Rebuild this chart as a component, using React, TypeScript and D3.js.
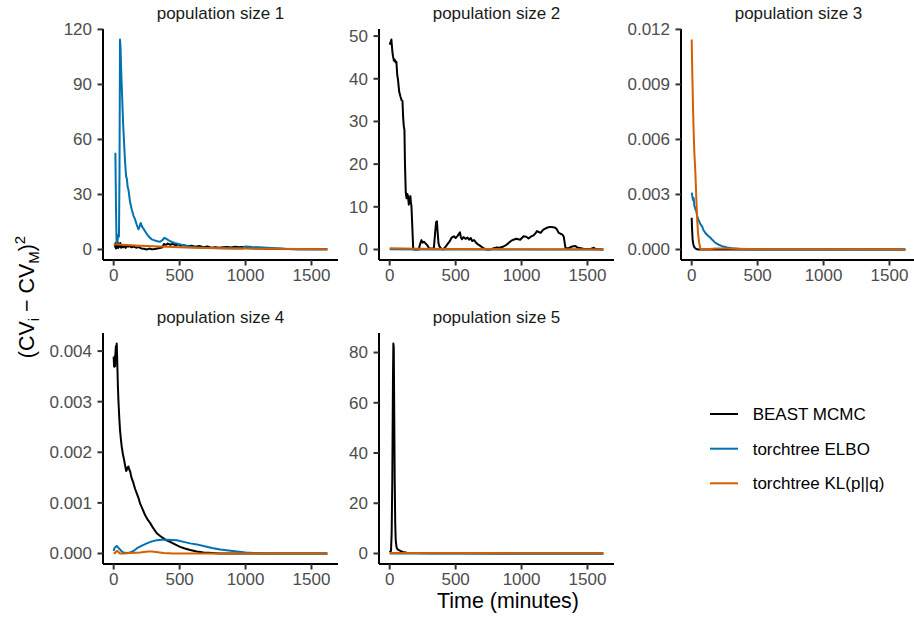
import React from 'react';
import * as d3 from 'd3';

type Pt = [number, number];

const seriesNames = ['BEAST MCMC', 'torchtree ELBO', 'torchtree KL(p||q)'];
const seriesColors = ['#000000', '#0072B2', '#D55E00'];
const panelTitles = ['population size 1', 'population size 2', 'population size 3', 'population size 4', 'population size 5'];
const xTicks = [0, 500, 1000, 1500];
const yTicksP1 = [0, 30, 60, 90, 120];
const yTicksP2 = [0, 10, 20, 30, 40, 50];
const yTicksP3 = [0, 0.003, 0.006, 0.009, 0.012];
const yTicksP4 = [0, 0.001, 0.002, 0.003, 0.004];
const yTicksP5 = [0, 20, 40, 60, 80];
const yDecimals = [0, 0, 3, 3, 0];

// population size 1
const p1Beast: Pt[] = [
  [10, 1], [14, 3.5], [18, 0.5], [22, 3], [26, 1], [30, 4], [34, 0.8], [38, 2.5], [44, 1.5], [50, 3.5],
  [56, 1], [62, 2.5], [70, 1.2], [80, 1.8], [90, 0.9], [100, 2.2], [110, 1.5], [120, 1.9], [135, 1.2],
  [150, 1.6], [170, 1.0], [190, 1.3], [210, 0.6], [230, 0.4], [250, 0], [270, 0.5], [290, 0.1], [310, 0.3],
  [330, 0.6], [350, 0.8], [370, 1.2], [380, 3], [395, 2.5], [410, 3.2], [430, 2.6], [450, 3.1], [470, 2.3],
  [490, 2.8], [510, 2.0], [530, 2.4], [560, 1.8], [590, 2.1], [620, 1.5], [650, 1.9], [680, 1.2], [710, 1.6],
  [740, 1.0], [770, 1.3], [800, 0.9], [830, 1.2], [860, 1.4], [890, 1.1], [920, 1.5], [950, 1.2], [980, 1.3],
  [1000, 0.8], [1050, 0.7], [1100, 0.5], [1200, 0.4], [1300, 0.3], [1400, 0.2], [1500, 0.15], [1620, 0.1],
];
const p1Elbo: Pt[] = [
  [13, 52.7], [18, 20], [22, 3.5], [28, 4], [34, 8], [40, 7], [44, 40], [48, 114.5], [52, 110], [58, 95],
  [64, 83.6], [72, 68], [79, 58], [86, 48], [94, 40], [100, 38.5], [106, 34], [112, 32.7], [124, 26],
  [137, 21.8], [150, 18.5], [162, 16.4], [175, 13.5], [188, 11], [196, 12.5], [205, 14.5], [215, 12.5],
  [225, 11.5], [238, 10], [255, 8], [270, 6.8], [289, 5.5], [310, 5], [330, 4.5], [352, 4.2], [370, 5.2],
  [385, 6.4], [400, 5.8], [428, 4.5], [460, 3.6], [505, 2.7], [540, 2.2], [580, 1.5], [620, 1.2], [700, 0.9],
  [800, 0.7], [900, 0.5], [980, 0.6], [1000, 1.7], [1050, 1.4], [1100, 1.2], [1200, 0.8], [1300, 0.4],
  [1400, 0.2], [1500, 0.15], [1620, 0.1],
];
const p1Kl: Pt[] = [
  [0, 2.9], [100, 2.5], [200, 2.1], [400, 1.5], [600, 1.0], [800, 0.7], [1000, 0.5], [1200, 0.35],
  [1400, 0.25], [1620, 0.15],
];

// population size 2
const p2Beast: Pt[] = [
  [0, 48], [7, 48.6], [13, 49.2], [20, 46.5], [25, 45.3], [32, 44.2], [38, 44.5], [45, 43.8], [51, 44],
  [57, 41], [63, 39.8], [72, 37], [81, 35.9], [90, 35], [97, 34.8], [102, 31], [107, 28.9], [112, 28],
  [116, 20], [122, 13.3], [128, 12], [134, 13], [139, 12.5], [145, 10.5], [150, 11.8], [157, 12.5],
  [161, 11], [165, 10.2], [172, 5], [178, 0.4], [185, 0], [220, 0], [230, 1.2], [241, 2.2], [250, 1.6],
  [260, 1.8], [270, 1.5], [285, 1], [295, 0.5], [300, 0.2], [335, 0.3], [345, 4], [352, 6.4], [358, 6.6],
  [364, 4], [370, 1.5], [376, 0.8], [390, 0.2], [406, 0], [420, 0.5], [440, 1.3], [457, 2], [470, 2.8],
  [487, 3.1], [500, 2.7], [515, 3.2], [533, 4], [540, 2.8], [548, 2.4], [560, 2.9], [575, 2.5], [590, 2.8],
  [602, 2.3], [615, 2.7], [625, 2.0], [640, 2.2], [655, 1.6], [670, 1.2], [690, 0.8], [711, 0.3], [730, 0],
  [762, 0], [790, 0.3], [812, 0.5], [835, 0.4], [863, 0.7], [885, 1.1], [901, 1.5], [920, 2], [939, 2.3],
  [960, 2.5], [990, 2.3], [1015, 3.1], [1035, 3.0], [1053, 2.6], [1070, 3.0], [1091, 3.3], [1105, 3.8],
  [1117, 4.3], [1130, 4.1], [1145, 3.9], [1160, 4.5], [1168, 4.7], [1180, 4.9], [1193, 5.1], [1205, 5.2],
  [1218, 5.3], [1240, 5.2], [1256, 5.1], [1268, 4.7], [1282, 3.9], [1295, 3.7], [1310, 3.5], [1320, 3.0],
  [1333, 0.3], [1358, 0.3], [1383, 0.7], [1409, 0.8], [1420, 0.5], [1434, 0.4], [1450, 0.3], [1472, 0.1],
  [1520, 0.1], [1548, 0.4], [1560, 0.1], [1620, 0],
];
const p2Elbo: Pt[] = [[0, 0.05], [300, 0.02], [800, 0.01], [1620, 0]];
const p2Kl: Pt[] = [[0, 0.3], [200, 0.15], [500, 0.1], [1000, 0.05], [1620, 0.02]];

// population size 3
const p3Beast: Pt[] = [
  [0, 0.00173], [3, 0.0011], [7, 0.00055], [12, 0.0003], [18, 0.00015], [23, 0.0001], [35, 0.00003],
  [50, 0], [1620, 0],
];
const p3Elbo: Pt[] = [
  [0, 0.0031], [5, 0.0029], [10, 0.0027], [15, 0.0028], [20, 0.0024], [28, 0.0022], [35, 0.0021],
  [42, 0.0018], [53, 0.0016], [65, 0.0014], [78, 0.00127], [90, 0.00105], [104, 0.0009], [120, 0.00078],
  [142, 0.00064], [160, 0.0005], [180, 0.00036], [205, 0.00026], [231, 0.00018], [270, 0.00011],
  [307, 0.00007], [370, 0.00003], [434, 0.00001], [600, 0], [1620, 0],
];
const p3Kl: Pt[] = [
  [0, 0.01145], [5, 0.0095], [10, 0.0078], [15, 0.0064], [20, 0.0053], [28, 0.0042], [35, 0.0028],
  [42, 0.0016], [48, 0.0009], [56, 0.0004], [66, 0.00003], [80, 0], [120, 0.00002], [180, 0.00005],
  [250, 0.00006], [350, 0.00004], [500, 0.00002], [800, 0.00001], [1620, 0],
];

// population size 4
const p4Beast: Pt[] = [
  [0, 0.00389], [3, 0.0037], [5, 0.00369], [8, 0.0039], [11, 0.0037], [13, 0.00395], [17, 0.0041],
  [20, 0.004], [23, 0.00415], [26, 0.0039], [28, 0.0037], [32, 0.0033], [36, 0.00303], [42, 0.0027],
  [48, 0.00244], [55, 0.00225], [61, 0.00211], [70, 0.00196], [79, 0.00185], [88, 0.00172], [95, 0.00163],
  [99, 0.00165], [105, 0.0017], [112, 0.00172], [118, 0.00166], [125, 0.00162], [135, 0.0015],
  [150, 0.00139], [162, 0.00128], [175, 0.00119], [188, 0.0011], [200, 0.00099], [215, 0.0009],
  [225, 0.00084], [238, 0.00076], [255, 0.00068], [277, 0.0006], [300, 0.0005], [327, 0.0004],
  [350, 0.00035], [378, 0.0003], [400, 0.00026], [428, 0.00023], [465, 0.00018], [504, 0.00013],
  [540, 0.0001], [580, 0.00007], [630, 0.00004], [681, 0.00002], [750, 0.00001], [807, 0], [1620, 0],
];
const p4Elbo: Pt[] = [
  [0, 0.00005], [5, 0.0001], [15, 0.00013], [23, 0.00015], [30, 0.00013], [40, 0.0001], [48, 0.00008],
  [60, 0.00004], [74, 0.00002], [100, 0.00001], [125, 0.00002], [150, 0.00005], [175, 0.0001],
  [210, 0.00015], [251, 0.0002], [290, 0.00024], [327, 0.00026], [365, 0.00027], [403, 0.00027],
  [440, 0.000265], [479, 0.00026], [530, 0.00023], [580, 0.0002], [630, 0.00018], [681, 0.00015],
  [745, 0.00011], [808, 0.00008], [870, 0.00006], [935, 0.00004], [1000, 0.00002], [1062, 0.00001],
  [1150, 0], [1620, 0],
];
const p4Kl: Pt[] = [
  [0, 0], [10, 0.00001], [20, 0.00004], [28, 0.00005], [36, 0.00003], [48, 0], [80, 0], [120, 0.00001],
  [200, 0.00002], [260, 0.00004], [289, 0.00004], [320, 0.00003], [378, 0.00001], [450, 0], [1620, 0],
];

// population size 5
const p5Beast: Pt[] = [
  [0, 0.5], [5, 0.8], [10, 1], [15, 8], [20, 30], [25, 70], [28, 83.6], [31, 82], [34, 60], [38, 30],
  [42, 12], [46, 5], [52, 2.5], [60, 1.6], [81, 1], [100, 0.6], [130, 0.3], [200, 0.15], [300, 0.1],
  [500, 0.05], [1620, 0],
];
const p5Elbo: Pt[] = [[0, 0], [1620, 0]];
const p5Kl: Pt[] = [[0, 0.2], [800, 0.15], [1620, 0.1]];

const panelSeries: Pt[][][] = [
  [p1Beast, p1Elbo, p1Kl],
  [p2Beast, p2Elbo, p2Kl],
  [p3Beast, p3Elbo, p3Kl],
  [p4Beast, p4Elbo, p4Kl],
  [p5Beast, p5Elbo, p5Kl],
];
const panelYTicks = [yTicksP1, yTicksP2, yTicksP3, yTicksP4, yTicksP5];

const W = 914;
const H = 620;
const PANEL_W = 235;
const PANEL_H = 231;
const colX = [103, 379, 681];
const rowY = [29, 333];
const FONT = '"Liberation Sans", Arial, Helvetica, sans-serif';
const AXIS_TEXT = '#4D4D4D';

function Panel({ idx }: { idx: number }) {
  const data = panelSeries[idx];
  const x0 = colX[idx % 3];
  const y0 = rowY[Math.floor(idx / 3)];
  const allT = data.flatMap((s) => s.map((p) => p[0]));
  const allV = data.flatMap((s) => s.map((p) => p[1]));
  const [tMin, tMax] = d3.extent(allT) as [number, number];
  const [vMin, vMax] = d3.extent(allV) as [number, number];
  const tPad = (tMax - tMin) * 0.05;
  const vPad = (vMax - vMin) * 0.05;
  const xs = d3.scaleLinear().domain([tMin - tPad, tMax + tPad]).range([x0, x0 + PANEL_W]);
  const ys = d3.scaleLinear().domain([vMin - vPad, vMax + vPad]).range([y0 + PANEL_H, y0]);
  const line = d3.line<Pt>().x((d) => xs(d[0])).y((d) => ys(d[1]));
  const fmt = d3.format(`.${yDecimals[idx]}f`);
  const yb = y0 + PANEL_H;
  return (
    <g>
      <text x={x0 + PANEL_W / 2} y={y0 - 10} textAnchor="middle" fontSize={17} fill="#1A1A1A">
        {panelTitles[idx]}
      </text>
      {data.map((s, i) => (
        <path key={i} d={line(s) || ''} fill="none" stroke={seriesColors[i]} strokeWidth={2}
          strokeLinejoin="round" />
      ))}
      <line x1={x0} x2={x0} y1={y0} y2={yb} stroke="#000" strokeWidth={2} />
      <line x1={x0} x2={x0 + PANEL_W} y1={yb} y2={yb} stroke="#000" strokeWidth={2} />
      {panelYTicks[idx].map((t) => (
        <g key={'y' + t}>
          <line x1={x0 - 5.5} x2={x0} y1={ys(t)} y2={ys(t)} stroke="#333333" strokeWidth={2} />
          <text x={x0 - 11} y={ys(t)} dy="0.35em" textAnchor="end" fontSize={17} fill={AXIS_TEXT}>
            {fmt(t)}
          </text>
        </g>
      ))}
      {xTicks.map((t) => (
        <g key={'x' + t}>
          <line x1={xs(t)} x2={xs(t)} y1={yb} y2={yb + 5.5} stroke="#333333" strokeWidth={2} />
          <text x={xs(t)} y={yb + 21} textAnchor="middle" fontSize={17} fill={AXIS_TEXT}>
            {t}
          </text>
        </g>
      ))}
    </g>
  );
}

export default function App() {
  const legendY = [414, 448.7, 483.3];
  return (
    <svg width={W} height={H} style={{ position: 'absolute', left: 0, top: 0, background: '#fff' }}
      fontFamily={FONT}>
      <rect width={W} height={H} fill="#fff" />
      {panelTitles.map((_, i) => (
        <Panel key={i} idx={i} />
      ))}
      <text x={508} y={608} textAnchor="middle" fontSize={21.4} fill="#000">Time (minutes)</text>
      <text transform="translate(34,297) rotate(-90)" textAnchor="middle" fontSize={21.4} fill="#000">
        <tspan>(CV</tspan>
        <tspan dy={5} fontSize={15}>i</tspan>
        <tspan dy={-5}>{' \u2212 CV'}</tspan>
        <tspan dy={5} fontSize={15}>M</tspan>
        <tspan dy={-5}>)</tspan>
        <tspan dy={-9} fontSize={15}>2</tspan>
      </text>
      {seriesNames.map((n, i) => (
        <g key={n}>
          <line x1={710} x2={738} y1={legendY[i]} y2={legendY[i]} stroke={seriesColors[i]} strokeWidth={2} />
          <text x={752.7} y={legendY[i]} dy="0.35em" fontSize={17} fill="#000">{n}</text>
        </g>
      ))}
    </svg>
  );
}
